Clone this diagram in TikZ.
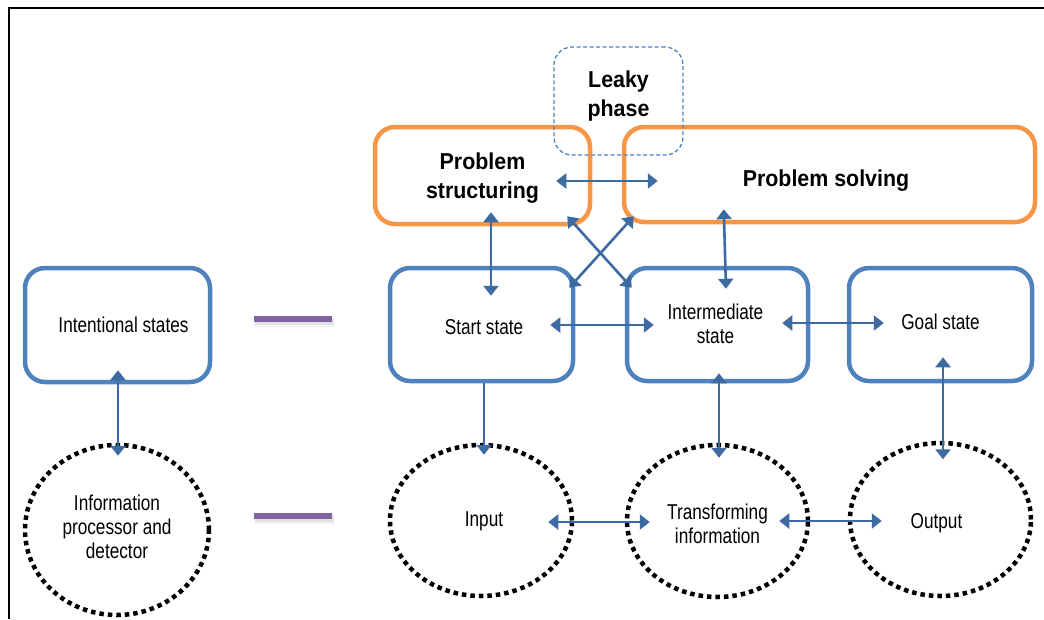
\documentclass[tikz,border=0pt]{standalone}
\usepackage{fontspec}
\setmainfont{Liberation Sans}
\newfontfamily\regfont[FakeStretch=0.8]{Liberation Sans}
\newfontfamily\headfont[FakeStretch=0.93]{Liberation Sans}
\usetikzlibrary{shapes.geometric,arrows.meta,calc}

\definecolor{boxblue}{RGB}{79,129,189}
\definecolor{arrowblue}{RGB}{62,106,162}
\definecolor{phaseorange}{RGB}{247,150,70}
\definecolor{linkpurple}{RGB}{128,100,162}

\newcommand\regtext{\regfont\fontsize{21.5}{24}\selectfont}
\newcommand\headtext{\headfont\bfseries\fontsize{23}{29}\selectfont}

\tikzset{
  statebox/.style={draw=boxblue, line width=4.5pt, rounded corners=20pt, inner sep=0pt},
  phasebox/.style={draw=phaseorange, line width=4.5pt, rounded corners=20pt, inner sep=0pt},
  leakbox/.style={draw=boxblue, line width=1.3pt, dash pattern=on 4pt off 2.5pt,
    rounded corners=18pt, inner sep=0pt},
  procell/.style={ellipse, draw=black, line width=4.5pt, dash pattern=on 4.5pt off 4pt,
    inner sep=0pt},
  regtag/.style={font=\regtext, align=center, inner sep=0pt},
  headtag/.style={font=\headtext, align=center, inner sep=0pt},
  link/.style={draw=arrowblue, line width=2.6pt,
    {Triangle[length=10pt,width=15pt]}-{Triangle[length=10pt,width=15pt]}},
  onelink/.style={draw=arrowblue, line width=2.6pt, -{Triangle[length=10pt,width=15pt]}},
  equiv/.style={draw=linkpurple, line width=6.5pt},
  equivshadow/.style={draw=black, opacity=0.07, line width=7pt},
}

\begin{document}
\begin{tikzpicture}[x=1pt,y=-1pt]
\useasboundingbox (0,0) rectangle (1044,619);

% outer frame
\draw[line width=2.2pt] (9,619) -- (9,8) -- (1044,8);

% phases
\node[phasebox, minimum width=215pt, minimum height=97pt,
  label={[headtag, yshift=-3pt]center:Problem\\structuring}] (ps) at (482.5,175.5) {};
\node[phasebox, minimum width=411pt, minimum height=95pt,
  label={[headtag, xshift=-3.5pt, yshift=-6pt]center:Problem solving}] (pv) at (829.5,174.5) {};
\node[leakbox, minimum width=129pt, minimum height=108pt,
  label={[headtag, yshift=4.5pt]center:Leaky\\phase}] (lk) at (618.5,101) {};

% states
\node[statebox, minimum width=185pt, minimum height=114pt,
  label={[regtag, xshift=6pt]center:Intentional states}] (is) at (117.5,325) {};
\node[statebox, minimum width=183pt, minimum height=113pt,
  label={[regtag, xshift=2.5pt, yshift=-3pt]center:Start state}] (ss) at (481.5,324.5) {};
\node[statebox, minimum width=181pt, minimum height=113pt,
  label={[regtag, xshift=-2pt, yshift=1pt]center:Intermediate\\state}] (ims) at (717.5,324.5) {};
\node[statebox, minimum width=183pt, minimum height=113pt,
  label={[regtag, yshift=3pt]center:Goal state}] (gs) at (940.5,324.5) {};

% processing levels
\node[procell, minimum width=184pt, minimum height=170pt,
  label={[regtag, yshift=3pt]center:Information\\processor and\\detector}] (ip) at (117,530) {};
\node[procell, minimum width=182pt, minimum height=151pt,
  label={[regtag, xshift=3pt, yshift=-1pt]center:Input}] (in) at (481,520.5) {};
\node[procell, minimum width=181pt, minimum height=152pt,
  label={[regtag, yshift=-3pt]center:Transforming\\information}] (tr) at (717.5,521) {};
\node[procell, minimum width=181pt, minimum height=153pt,
  label={[regtag, xshift=-4pt, yshift=-4pt]center:Output}] (out) at (940.5,519.5) {};

% level correspondences
\draw[equivshadow] (255,321.5) -- (334,321.5);
\draw[equivshadow, opacity=0.05, line width=9pt] (255,322) -- (334,322);
\draw[equiv] (254,319) -- (332,319);
\draw[equivshadow] (255,518.5) -- (334,518.5);
\draw[equivshadow, opacity=0.05, line width=9pt] (255,519) -- (334,519);
\draw[equiv] (254,516) -- (332,516);

% connectors
\draw[link] ($(is.south)+(0.5,-14)$) -- ($(ip.north)+(1,13)$);
\draw[link] ($(ps.south)+(8.5,-14)$) -- ($(ss.north)+(9.5,30)$);
\draw[link] ($(ps.east)+(-36,5.5)$) -- ($(pv.west)+(36,6.5)$);
\draw[link] ($(ps.south east)+(-25,-10)$) -- ($(ims.north west)+(7,22)$);
\draw[link] ($(pv.south west)+(12,-8)$) -- ($(ss.north east)+(-6,22)$);
\draw[link] ($(pv.south west)+(102,-15)$) -- ($(ims.north)+(8.5,23)$);
\draw[link] ($(ss.east)+(-25,0.5)$) -- ($(ims.west)+(29,0.5)$);
\draw[link] ($(ims.east)+(-28,-1.5)$) -- ($(gs.west)+(37,-1.5)$);
\draw[onelink] ($(ss.south)+(2.5,0)$) -- ($(in.north)+(3,12)$);
\draw[link] ($(ims.south)+(1.5,-10)$) -- ($(tr.north)+(1.5,15)$);
\draw[link] ($(gs.south)+(2.5,-26)$) -- ($(out.north)+(2.5,18.5)$);
\draw[link] ($(in.east)+(-26,1.5)$) -- ($(tr.west)+(25,1)$);
\draw[link] ($(tr.east)+(-31,0)$) -- ($(out.west)+(34,1.5)$);
\end{tikzpicture}
\end{document}
